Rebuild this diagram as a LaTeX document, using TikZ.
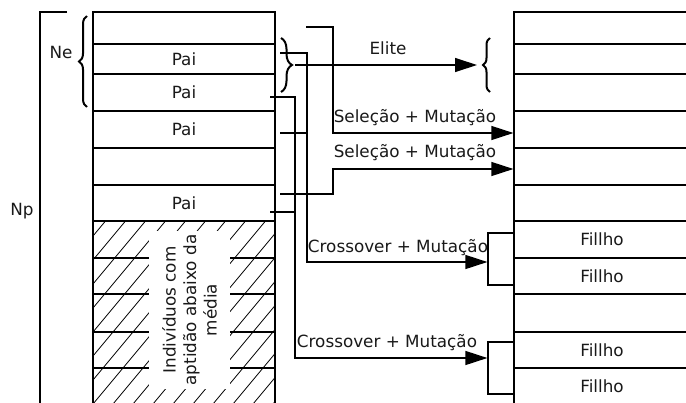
\documentclass[tikz,border=0pt]{standalone}
\usepackage{fontspec}
\setmainfont{DejaVu Sans}
\usetikzlibrary{arrows.meta,decorations.pathreplacing}

\begin{document}
\begin{tikzpicture}[x=1pt,y=-1pt,
  every node/.style={font=\fontsize{16.8}{20.5}\selectfont, text=black!90},
  cell/.style={draw=black, line width=1.2pt, minimum width=182pt, inner sep=0pt},
  pair/.style={draw=black, line width=1.2pt, minimum width=26pt, minimum height=52pt, inner sep=0pt},
  wire/.style={line width=1.2pt},
  arrow/.style={-{Triangle[length=22pt,width=14pt]}, line width=1.2pt},
  curly/.style={decorate, decoration={brace, amplitude=#1}, line width=2pt},
]

\useasboundingbox[fill=white] (0,0) rectangle (686,402);

% hatching of the lower part
\begin{scope}
  \clip (93,221) rectangle (275,404);
  \foreach \k in {-8,...,10}
    \draw[line width=0.8pt] (93+\k*20,404) -- ++(220,-264);
\end{scope}

% current population
\node[cell, minimum height=32pt] (L1) at (184,28) {};
\node[cell, minimum height=30pt] (L2) at (184,59) {Pai};
\node[cell, minimum height=37pt] (L3) at (184,92.5) {Pai};
\node[cell, minimum height=37pt] (L4) at (184,129.5) {Pai};
\node[cell, minimum height=37pt] (L5) at (184,166.5) {};
\node[cell, minimum height=36pt] (L6) at (184,203) {Pai};
\node[cell, minimum height=37pt] (L7) at (184,239.5) {};
\node[cell, minimum height=36pt] (L8) at (184,276) {};
\node[cell, minimum height=38pt] (L9) at (184,313) {};
\node[cell, minimum height=36pt] (L10) at (184,350) {};
\node[cell, minimum height=36pt] (L11) at (184,386) {};

\node[rotate=90, fill=white, align=center, inner sep=0pt, minimum width=158pt, minimum height=81pt] (abaixo) at (189.5,310) {Indivíduos com\\aptidão abaixo da\\média};

% new population
\node[cell, minimum width=176pt, minimum height=32pt] (R1) at (602,28) {};
\node[cell, minimum width=176pt, minimum height=30pt] (R2) at (602,59) {};
\node[cell, minimum width=176pt, minimum height=37pt] (R3) at (602,92.5) {};
\node[cell, minimum width=176pt, minimum height=37pt] (R4) at (602,129.5) {};
\node[cell, minimum width=176pt, minimum height=37pt] (R5) at (602,166.5) {};
\node[cell, minimum width=176pt, minimum height=36pt] (R6) at (602,203) {};
\node[cell, minimum width=176pt, minimum height=37pt] (R7) at (602,239.5) {Fillho};
\node[cell, minimum width=176pt, minimum height=36pt] (R8) at (602,276) {Fillho};
\node[cell, minimum width=176pt, minimum height=38pt] (R9) at (602,313) {};
\node[cell, minimum width=176pt, minimum height=36pt] (R10) at (602,350) {Fillho};
\node[cell, minimum width=176pt, minimum height=36pt] (R11) at (602,386) {Fillho};

\node[pair] (pair1) at (501,259) {};
\node[pair] (pair2) at (501,368) {};

% sizes
\draw[wire] (67,12) -- (40,12) -- (40,404);
\node (np) at (22,211) {Np};
\node (ne) at (61,52) {Ne};
\draw[curly=8pt] (87,107) -- (87,16);
\draw[curly=11pt] (281,38) -- (281,92);
\draw[curly=7pt] (490,92) -- (490,38);

% labels
\node[anchor=base] (elite) at (388,54) {Elite};
\node[anchor=base] (sel1) at (415,122) {Seleção + Mutação};
\node[anchor=base] (sel2) at (415,157) {Seleção + Mutação};
\node[anchor=base] (cross1) at (398,252) {Crossover + Mutação};
\node[anchor=base] (cross2) at (387,347) {Crossover + Mutação};

% connectors
\coordinate (eliteS) at (295,65);
\coordinate (eliteT) at (477,65);
\coordinate (selA) at (306,27);
\coordinate (selB) at (280,194);
\coordinate (pa2) at (280,53);
\coordinate (pa4) at (280,133);
\coordinate (pa3) at (270,97);
\coordinate (pa6) at (270,212);

\draw[arrow] (eliteS) -- (eliteT);
\draw[arrow] (selA) -- ++(27,0) |- ([yshift=-3.5pt]R4.west);
\draw[arrow] (selB) -- ++(53,0) |- ([yshift=-2.5pt]R5.west);
\draw[arrow] (pa2) -- ++(27,0) |- ([yshift=-3pt]pair1.west);
\draw[wire] (pa4) -- ++(27,0);
\draw[arrow] (pa3) -- ++(25,0) |- ([yshift=10pt]pair2.west);
\draw[wire] (pa6) -- ++(25,0);

\end{tikzpicture}
\end{document}
